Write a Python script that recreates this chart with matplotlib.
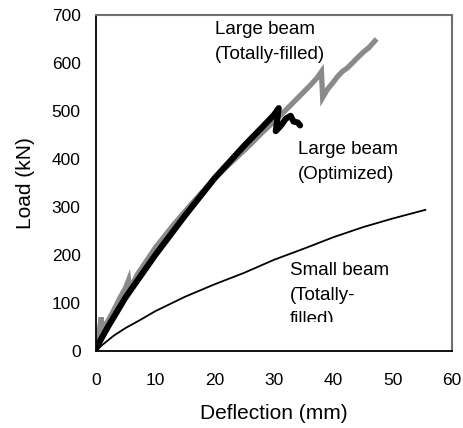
import matplotlib
matplotlib.use('Agg')
import matplotlib.pyplot as plt
from matplotlib.patches import Rectangle

plt.rcParams['font.family'] = ['Liberation Sans', 'DejaVu Sans']

# Large beam, totally-filled (grey)
large_full_x = [0, 0.4, 0.9, 1.0, 1.3, 2.0, 3.0, 4.0, 5.0, 5.5, 5.7, 7.0, 10, 13, 16, 20, 23, 26,
                28, 30, 32, 34.4, 36, 37.2, 38.0, 38.2, 39.0, 40.0, 40.6, 41.5, 42.4, 43.2,
                44.0, 45.0, 46.0, 47.0]
large_full_y = [15, 30, 70, 40, 50, 62, 85, 110, 132, 148, 128, 160, 215, 262, 305, 360, 395, 430,
                455, 478, 502, 532, 552, 568, 582, 528, 545, 560, 570, 582, 590, 600,
                610, 622, 632, 646]

# Large beam, optimized (black)
large_opt_x = [0, 1, 2, 5, 10, 15, 20, 25, 28, 30, 30.8, 30.5, 30.3, 31.2, 32.0, 32.8, 33.3, 34.0, 34.4]
large_opt_y = [5, 28, 50, 112, 200, 282, 360, 428, 466, 492, 506, 478, 458, 470, 484, 490, 478, 476, 470]

# Small beam, totally-filled (thin black)
small_x = [0, 1, 2, 3, 5, 7.5, 10, 15, 20, 25, 30, 35, 40, 45, 50, 55.5]
small_y = [0, 12, 22, 32, 48, 65, 83, 113, 139, 163, 190, 213, 237, 258, 276, 294]

fig = plt.figure(figsize=(4.63, 4.28), dpi=100)
ax = fig.add_axes([0.2073, 0.1799, 0.7689, 0.7851])

ax.plot(large_full_x, large_full_y, '-', color='#8a8a8a', lw=3.8, solid_joinstyle='miter')
ax.plot(large_opt_x, large_opt_y, '-', color='black', lw=4.4, solid_capstyle='round')
ax.plot(small_x, small_y, '-', color='black', lw=1.3)

ax.set_xlim(0, 60)
ax.set_ylim(0, 700)
ax.set_xticks(range(0, 61, 10))
ax.set_yticks(range(0, 701, 100))
ax.tick_params(axis='both', length=0, labelsize=12.5)
ax.tick_params(axis='x', pad=16)
ax.tick_params(axis='y', pad=11)

for side in ['left', 'bottom']:
    ax.spines[side].set_color('black')
    ax.spines[side].set_linewidth(1.3)
for side in ['top', 'right']:
    ax.spines[side].set_color('#707070')
    ax.spines[side].set_linewidth(1.5)

ax.set_xlabel('Deflection (mm)', fontsize=15, labelpad=11)
ax.set_ylabel('Load (kN)', fontsize=15, labelpad=12)

ax.text(20.0, 687, 'Large beam\n(Totally-filled)', fontsize=13.5, va='top', ha='left',
        linespacing=1.6)
ax.text(34.0, 437, 'Large beam\n(Optimized)', fontsize=13.5, va='top', ha='left',
        linespacing=1.6)
t = ax.text(32.7, 186, 'Small beam\n(Totally-\nfilled)', fontsize=13.5, va='top', ha='left',
            linespacing=1.6)
clip = Rectangle((30, 60), 25, 140, transform=ax.transData, fill=False, visible=False)
ax.add_patch(clip)
t.set_clip_on(True)
t.set_clip_path(clip)

fig.savefig('out.png', dpi=100)
